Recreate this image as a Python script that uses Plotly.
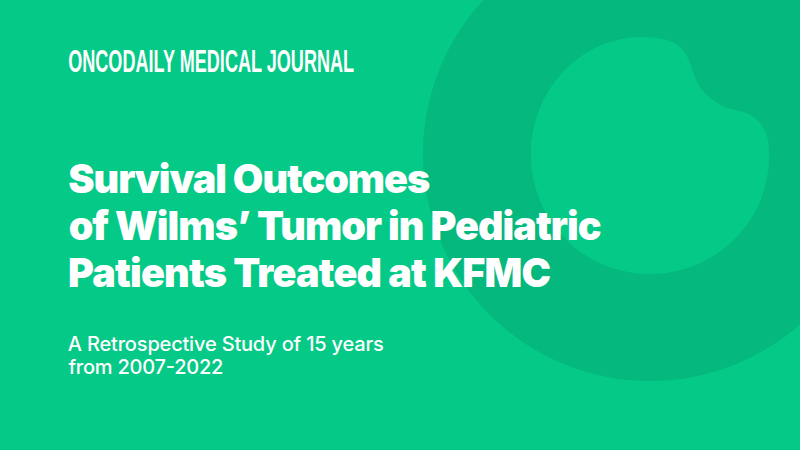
import plotly.graph_objects as go

BG = "#05C986"
DARK = "#05B87D"
header = "ONCODAILY MEDICAL JOURNAL"
title_lines = ["Survival Outcomes", "of Wilms’ Tumor in Pediatric", "Patients Treated at KFMC"]
sub_lines = ["A Retrospective Study of 15 years", "from 2007-2022"]

left = 68
header_y, header_w = 61, 286
title_y, title_w = [178.5, 225.5, 272.5], [362, 533, 483]
sub_y, sub_w = [344, 367], [316, 155]

outer = dict(cx=650, cy=154, r=227)
blob_path = ("M 531,155 C 531,90 580,37 643,37 C 662,37 677,42 683,50 "
             "C 690,59 691,68 695,77 C 699,86 702,91 707,95 C 713,101 720,105 727,108 "
             "C 735,110 741,111 747,113 C 760,119 766,130 768,140 C 769,146 769,153 769,160 "
             "C 767,224 714,274 650,274 C 584,274 531,221 531,155 Z")

fig = go.Figure()
fig.add_shape(type="circle", xref="x", yref="y",
              x0=outer["cx"]-outer["r"], x1=outer["cx"]+outer["r"],
              y0=outer["cy"]-outer["r"], y1=outer["cy"]+outer["r"],
              fillcolor=DARK, line_width=0, layer="below")
fig.add_shape(type="path", xref="x", yref="y", path=blob_path, fillcolor=BG, line_width=0, layer="below")

def label(text, y, w, size, family, weight):
    fig.add_annotation(x=left + w / 2, y=y, text=text, showarrow=False, xanchor="center", yanchor="middle",
                       xref="x", yref="y", borderpad=0,
                       font=dict(family=family, size=size, color="white", weight=weight))

label(header, header_y, header_w, 31, "Liberation Sans", 700)
for t, y, w in zip(title_lines, title_y, title_w):
    label(t, y, w, 39.5, "Inter", 900)
for t, y, w in zip(sub_lines, sub_y, sub_w):
    label(t, y, w, 20, "Inter", 500)

fig.update_xaxes(range=[0, 800], visible=False, fixedrange=True)
fig.update_yaxes(range=[450, 0], visible=False, fixedrange=True)
fig.update_layout(width=800, height=450, margin=dict(l=0, r=0, t=0, b=0),
                  paper_bgcolor=BG, plot_bgcolor=BG, showlegend=False)

widths = [header_w] + title_w + sub_w
post = """
document.body.style.margin='0';
var W = %s;
function fit(){
  var t = document.querySelectorAll('.annotation-text');
  t.forEach(function(n,i){
    n.setAttribute('textLength', W[i]);
    n.setAttribute('lengthAdjust', i===0 ? 'spacingAndGlyphs' : 'spacing');
  });
}
fit(); setTimeout(fit, 50);
""" % widths
fig.write_html("out.html", config={"displayModeBar": False}, post_script=post)
